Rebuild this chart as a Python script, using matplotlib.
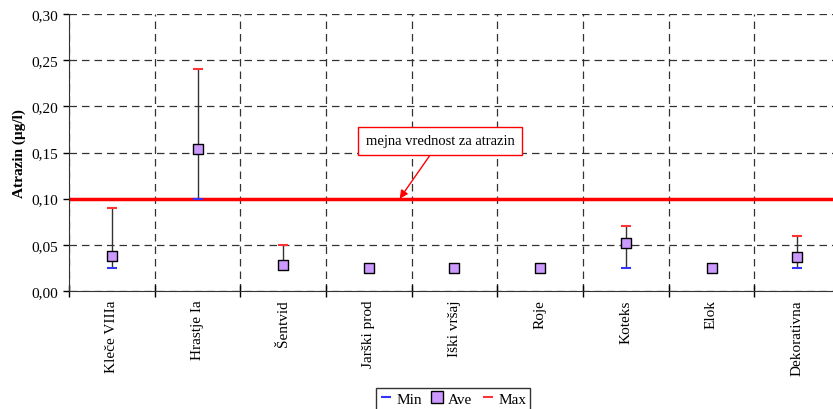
import numpy as np
import matplotlib.pyplot as plt
from matplotlib.lines import Line2D
from matplotlib.ticker import FuncFormatter

plt.rcParams['font.family'] = ['Liberation Serif', 'DejaVu Serif']

sites = ['Kleče VIIIa', 'Hrastje Ia', 'Šentvid', 'Jarški prod', 'Iški vršaj',
         'Roje', 'Koteks', 'Elok', 'Dekorativna']
v_min = [0.025, 0.100, 0.025, 0.025, 0.025, 0.025, 0.025, 0.025, 0.025]
v_ave = [0.038, 0.154, 0.028, 0.025, 0.025, 0.025, 0.052, 0.025, 0.037]
v_max = [0.090, 0.240, 0.050, 0.025, 0.025, 0.025, 0.070, 0.025, 0.060]
limit = 0.10

fig = plt.figure(figsize=(8.33, 4.10), dpi=100)
ax = fig.add_axes([69/833, 118/410, 771/833, 277/410])

x = np.arange(len(sites))
ax.vlines(x, v_min, v_max, color='#333333', lw=1, zorder=3)
ax.scatter(x, v_min, marker='_', s=50, color='#3333ff', lw=1.5, zorder=4)
ax.scatter(x, v_max, marker='_', s=50, color='#ff3333', lw=1.5, zorder=4)
ax.scatter(x, v_ave, marker='s', s=55, color='#cc99ff', edgecolor='black', lw=1, zorder=5)

ax.axhline(limit, color='red', lw=2.5, zorder=2)
ax.annotate('mejna vrednost za atrazin', xy=(3.36, limit), xytext=(3.83, 0.1625),
            fontsize=10.5, ha='center', va='center',
            bbox=dict(boxstyle='square,pad=0.5', fc='white', ec='red', lw=1),
            arrowprops=dict(arrowstyle='-|>', color='red', lw=1, mutation_scale=12,
                            shrinkA=0, shrinkB=0),
            zorder=6)

ax.set_xlim(-0.5, len(sites) - 0.5)
ax.set_ylim(0, 0.30)
ax.set_yticks(np.arange(0, 0.31, 0.05))
ax.yaxis.set_major_formatter(FuncFormatter(lambda v, p: f'{v:.2f}'.replace('.', ',')))
ax.set_xticks(x)
ax.set_xticklabels(sites, rotation=90, fontsize=11)
ax.set_xticks(np.arange(-0.5, len(sites)), minor=True)
ax.tick_params(axis='x', which='major', length=0, pad=6)
ax.tick_params(axis='x', which='minor', length=8, direction='inout', width=1)
ax.tick_params(axis='y', labelsize=11, length=4, direction='out', width=1)
ax.grid(True, axis='y', which='major', ls=(0, (6, 4)), color='#333333', lw=0.9)
ax.grid(True, axis='x', which='minor', ls=(0, (6, 4)), color='#333333', lw=0.9)
ax.set_ylabel('Atrazin (µg/l)', fontsize=11, fontweight='bold')

ax.spines['right'].set_visible(False)
ax.spines['top'].set_visible(False)
ax.spines['left'].set_color('#333333')
ax.spines['bottom'].set_color('#333333')

handles = [Line2D([], [], color='#3333ff', marker='_', ls='none', ms=7, mew=1.5),
           Line2D([], [], color='#cc99ff', marker='s', ls='none', ms=8, mec='black', mew=1),
           Line2D([], [], color='#ff3333', marker='_', ls='none', ms=7, mew=1.5)]
fig.legend(handles, ['Min', 'Ave', 'Max'], loc='lower center', bbox_to_anchor=(453/833, -0.02),
           ncol=3, fontsize=11, frameon=True, fancybox=False, edgecolor='black',
           handlelength=0.8, handletextpad=0.3, columnspacing=0.6, borderpad=0.25)

fig.savefig('out.png', dpi=100)
